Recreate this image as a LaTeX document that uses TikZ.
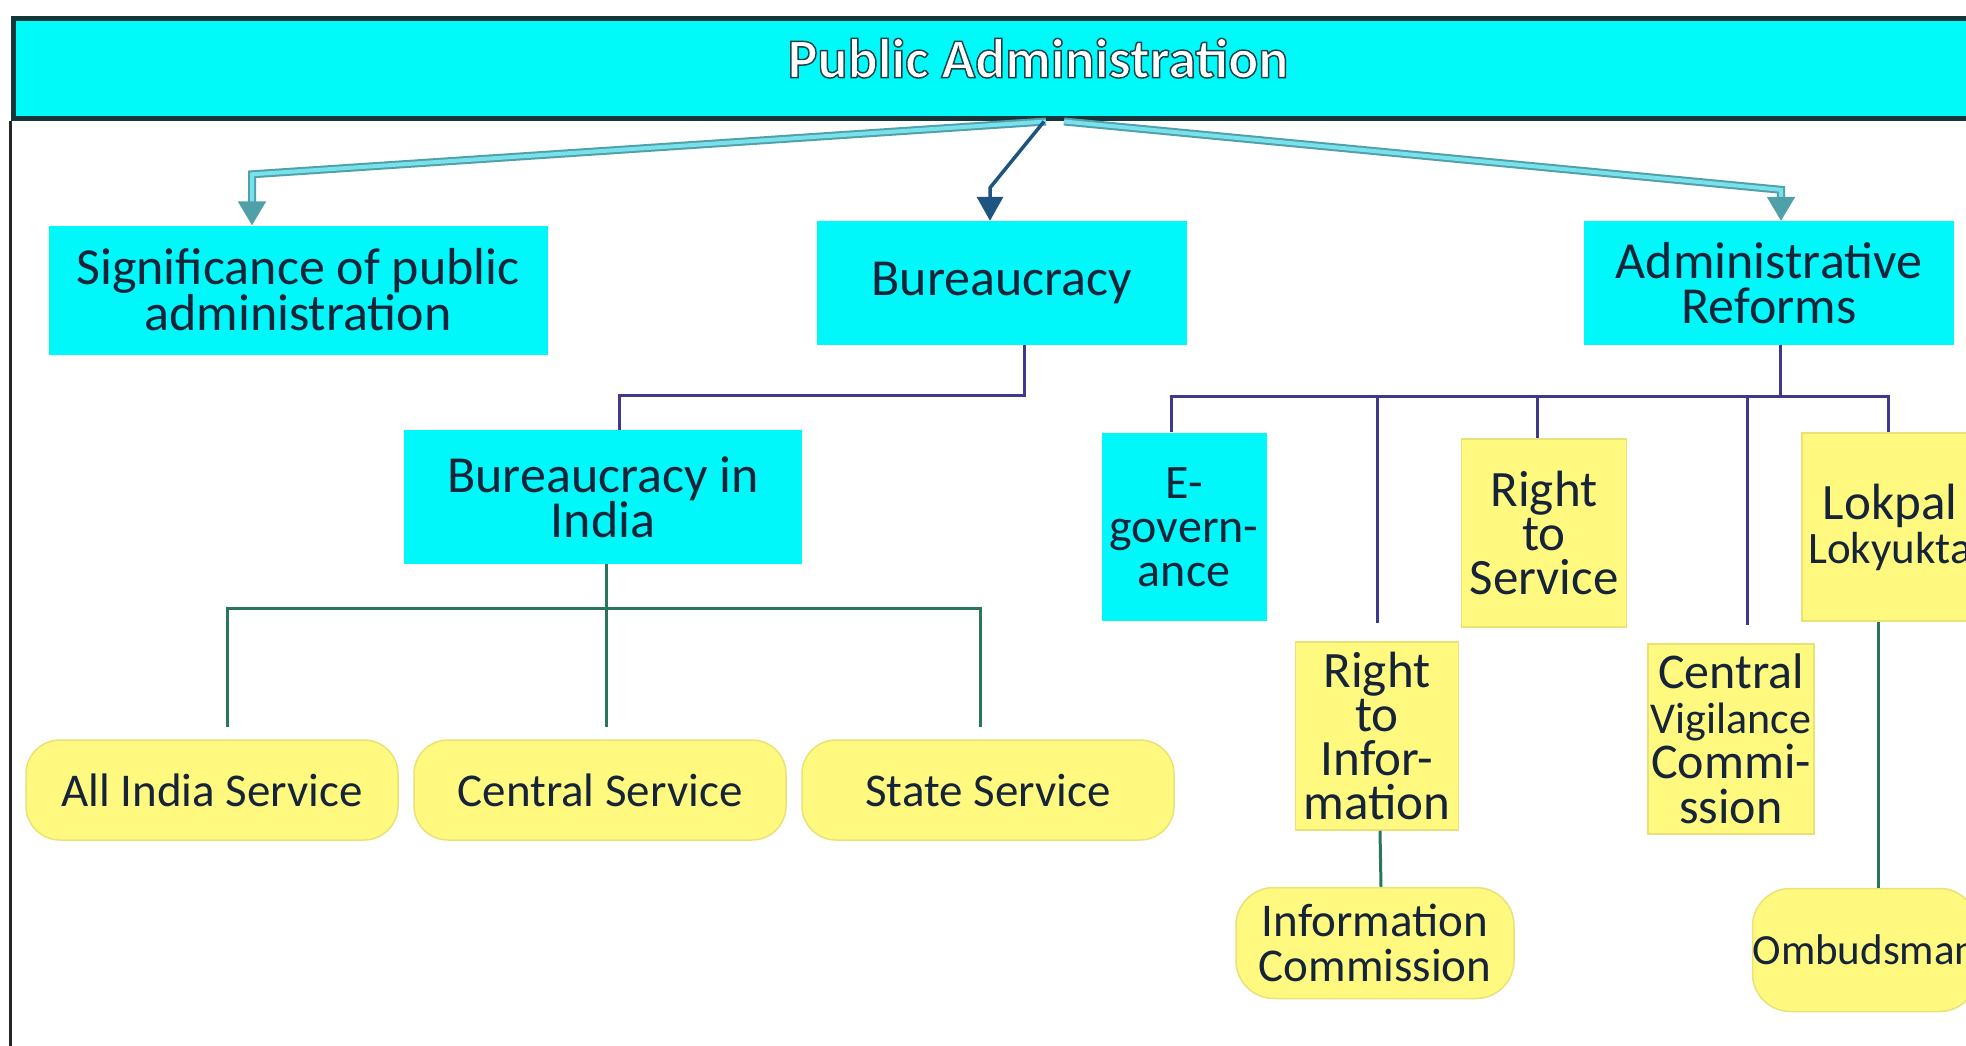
\documentclass[tikz,border=0pt]{standalone}
\usepackage{fontspec}
\setmainfont{Carlito}
\newfontfamily\outlinefont{Carlito}[FakeBold=2.6]
\usepackage{xcolor}
\usetikzlibrary{shapes.geometric, arrows.meta}
\definecolor{barcyan}{RGB}{0,250,250}
\definecolor{bardark}{RGB}{20,55,60}
\definecolor{boxcyan}{RGB}{0,248,250}
\definecolor{noteyellow}{RGB}{255,249,128}
\definecolor{noteedge}{RGB}{232,226,120}
\definecolor{inkblue}{RGB}{22,36,58}
\definecolor{linkblue}{RGB}{62,56,142}
\definecolor{linkgreen}{RGB}{42,118,90}
\definecolor{darkarrow}{RGB}{28,86,128}
\definecolor{lightedge}{RGB}{80,160,170}
\definecolor{lightfill}{RGB}{120,225,235}
% white letters with a dark rim (fill colour, stroke colour)
\newcommand{\rimtext}[1]{\special{pdf:bcolor [1 1 1] [0.1 0.25 0.28]}#1\special{pdf:ecolor}}
\tikzstyle{banner} = [rectangle,
minimum width=2050pt,
minimum height=100pt,
fill=barcyan,
draw=bardark,
line width=5pt,
text=white,
font=\outlinefont\bfseries\fontsize{56}{60}\selectfont]
\tikzstyle{topic} = [rectangle,
minimum width=370pt,
minimum height=124pt,
inner sep=0pt,
text centered, align=center,
fill=boxcyan,
text=inkblue,
font=\fontsize{52}{45}\selectfont]
\tikzstyle{reform} = [rectangle,
minimum width=165pt,
minimum height=188pt,
inner sep=0pt,
text centered, align=center,
fill=noteyellow, draw=noteedge, line width=1.5pt,
text=inkblue,
font=\fontsize{51}{44}\selectfont]
\tikzstyle{service} = [rectangle, rounded corners=34pt,
minimum width=372pt,
minimum height=100pt,
inner sep=0pt,
text centered,
fill=noteyellow, draw=noteedge, line width=1.5pt,
text=inkblue,
font=\fontsize{47}{45}\selectfont]
\tikzstyle{office} = [rectangle, rounded corners=38pt,
minimum width=278pt,
minimum height=111pt,
inner sep=0pt,
text centered, align=center,
fill=noteyellow, draw=noteedge, line width=1.5pt,
text=inkblue,
font=\fontsize{47}{45}\selectfont]
\tikzstyle{arrow} = [line width=3.5pt, draw=darkarrow, -{Triangle[length=24pt,width=26pt]}]
\tikzstyle{lightarrow} = [draw=lightedge, double=lightfill, double distance=4pt, line width=2pt,
-{Triangle[length=24pt,width=28pt]}]
\tikzstyle{tree} = [line width=3pt, draw=linkblue]
\tikzstyle{branch} = [line width=3pt, draw=linkgreen]
\tikzstyle{frame} = [line width=2.5pt, draw=black!85]

\begin{document}
\begin{tikzpicture}[x=1pt, y=-1pt, node distance=214pt]
\useasboundingbox (0,0) rectangle (1966,1046);
\fill [white] (0,0) rectangle (1966,1046);

\node (title) [banner] at (1038,69) {\raisebox{22pt}{\rimtext{Public Administration}}};
\draw [frame] (title.south west) -- ++(0,940);

\node (bur) [topic, below of=title, xshift=-36pt] {Bureaucracy};
\node (sig) [topic, below of=title, xshift=-740pt, yshift=-7pt, minimum width=499pt, minimum height=129pt] {Significance of public\\administration};
\node (adm) [topic, below of=title, xshift=731pt] {Administrative\\Reforms};
\node (bind) [topic, below of=bur, xshift=-399pt, minimum width=398pt, minimum height=134pt] {Bureaucracy in\\India};

\node (ais) [service, below of=bind, xshift=-391pt, yshift=-79pt] {All India Service};
\node (cs) [service, below of=bind, xshift=-3pt, yshift=-79pt] {Central Service};
\node (ss) [service, below of=bind, xshift=385pt, yshift=-79pt] {State Service};

\node (egov) [reform, below of=adm, xshift=-585pt, yshift=-30pt, fill=boxcyan, draw=none, font=\fontsize{48}{44}\selectfont] {E-\\govern-\\ance};
\node (rts) [reform, below of=adm, xshift=-225pt, yshift=-36pt] {Right\\to\\Service};
\node (lok) [reform, below of=adm, xshift=121pt, yshift=-30pt, minimum width=176pt] {Lokpal\\{\fontsize{45}{46}\selectfont Lokyukta}};
\node (rti) [reform, below of=egov, xshift=193pt, yshift=5pt, minimum width=163pt] {Right\\to\\Infor-\\mation};
\node (cvc) [reform, below of=rts, xshift=187pt, yshift=8pt, minimum width=166pt, minimum height=190pt, font=\fontsize{50}{45}\selectfont] {Central\\{\fontsize{44}{45}\selectfont Vigilance}\\Commi-\\ssion};
\node (ic) [office, below of=rti, xshift=-2pt, yshift=7pt] {Information\\Commission};
\node (omb) [office, below of=cvc, xshift=134pt, yshift=3pt, minimum width=225pt, minimum height=123pt, font=\fontsize{43}{44}\selectfont] {Ombudsman};

% arrows from the banner
\draw [lightarrow] ([xshift=8pt]title.south) -- ([xshift=-46pt,yshift=51pt]sig.north) -- ([xshift=-46pt]sig.north);
\draw [arrow] ([xshift=6pt]title.south) -- ([xshift=-12pt,yshift=33pt]bur.north) -- ([xshift=-12pt]bur.north);
\draw [lightarrow] ([xshift=26pt]title.south) -- ([xshift=12pt,yshift=31pt]adm.north) -- ([xshift=12pt]adm.north);

\draw [tree] ([xshift=22pt]bur.south) -- ++(0,50) -| ([xshift=16pt]bind.north);
\draw [branch] ([xshift=3pt]bind.south) -- ++(0,44) coordinate (bfork);
\draw [branch, shorten >=12pt] (bfork) -| ([xshift=15pt]ais.north);
\draw [branch, shorten >=12pt] (bfork) -| ([xshift=6pt]cs.north);
\draw [branch, shorten >=12pt] (bfork) -| ([xshift=-8pt]ss.north);

\draw [tree] ([xshift=11pt]adm.south) -- ++(0,51) coordinate (afork);
\draw [tree] (afork) -| ([xshift=-13pt]egov.north);
\draw [tree, shorten >=18pt] (afork) -| (rti.north);
\draw [tree] (afork) -| ([xshift=-7pt]rts.north);
\draw [tree, shorten >=18pt] (afork) -| ([xshift=16pt]cvc.north);
\draw [tree] (afork) -| ([xshift=-2pt]lok.north);
\draw [branch] ([xshift=3pt]rti.south) -- ([xshift=6pt]ic.north);
\draw [branch] ([xshift=-12pt]lok.south) -- ([xshift=13pt]omb.north);

\end{tikzpicture}
\end{document}
